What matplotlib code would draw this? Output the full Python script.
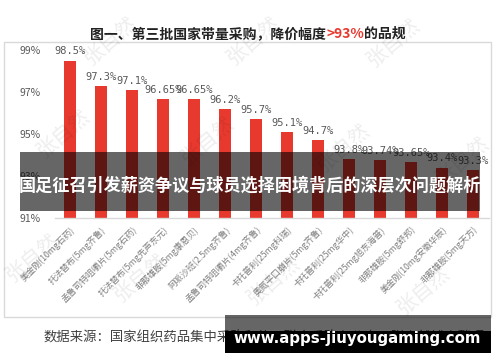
import numpy as np
import matplotlib
matplotlib.use("Agg")
import matplotlib.pyplot as plt
from matplotlib.patches import Rectangle

plt.rcParams['font.family'] = ['Noto Sans CJK SC', 'DejaVu Sans']

# Daten
kategorien = ["美金刚(10mg石药)", "托法替布(5mg齐鲁)", "孟鲁司特咀嚼片(5mg石药)",
              "托法替布(5mg先声东元)", "非那雄胺(5mg康恩贝)", "阿哌沙班(2.5mg齐鲁)",
              "孟鲁司特咀嚼片(4mg齐鲁)", "卡托普利(25mg科瑞)", "奥氮平口崩片(5mg齐鲁)",
              "卡托普利(25mg华中)", "卡托普利(25mg旭东海普)", "非那雄胺(5mg舒邦)",
              "美金刚(10mg安徽华辰)", "非那雄胺(5mg天方)"]
werte = [98.5, 97.3, 97.1, 96.65, 96.65, 96.2, 95.7, 95.1, 94.7, 93.8, 93.74, 93.65, 93.4, 93.3]
wert_labels = ["98.5%", "97.3%", "97.1%", "96.65%", "96.65%", "96.2%", "95.7%", "95.1%",
               "94.7%", "93.8%", "93.74%", "93.65%", "93.4%", "93.3%"]
y_ticks = [91, 93, 95, 97, 99]
titel_teile = [("图一、第三批国家带量采购，降价幅度", "#222222"), (">93%", "#E8392F"), ("的品规", "#222222")]
quelle = "数据来源：国家组织药品集中采购和使用联合采购办公室，张自然博士整理"
banner_text = "国足征召引发薪资争议与球员选择困境背后的深层次问题解析"
url_text = "www.apps-jiuyougaming.com"

W, H = 500, 362
fig = plt.figure(figsize=(W / 100, H / 100), dpi=100)
fig.patch.set_facecolor("white")

def px(x, y):
    # Pixel -> Figure-Koordinaten (y von oben)
    return x / W, 1 - y / H

# Rahmen um das Diagramm
fig.patches.append(Rectangle(px(4, 317), 487 / W, 275 / H, transform=fig.transFigure,
                             fill=False, edgecolor="#d9d9d9", linewidth=1.0))

# Wasserzeichen
for (x, y) in [(110, 40), (253, 40), (393, 42), (63, 133), (207, 140), (343, 147), (462, 160),
               (32, 257), (140, 277), (273, 280), (423, 290)]:
    fx, fy = px(x, y)
    fig.text(fx, fy, "张自然", fontsize=15, color="#000000", alpha=0.07,
             rotation=40, ha="center", va="center")

ax = fig.add_axes([54.5 / W, 1 - 218 / H, 434 / W, 168 / H])
x = np.arange(len(werte))
ax.bar(x, np.array(werte) - 91, bottom=91, width=0.36, color="#E8392F", zorder=2)
ax.set_xlim(-0.5, len(werte) - 0.5)
ax.set_ylim(91, 99)
ax.set_facecolor("none")
for s in ["top", "right", "left"]:
    ax.spines[s].set_visible(False)
ax.spines["bottom"].set_color("#d9d9d9")
ax.spines["bottom"].set_linewidth(1.0)
ax.set_yticks(y_ticks)
ax.set_yticklabels([f"{t}%" for t in y_ticks], fontsize=7.5, color="#595959")
ax.tick_params(axis="y", length=0, pad=10)
ax.set_xticks(x)
ax.set_xticklabels(kategorien, rotation=45, ha="right", rotation_mode="anchor",
                   fontsize=6.3, color="#7f7f7f")
ax.tick_params(axis="x", length=0, pad=5)

for xi, v, lab in zip(x, werte, wert_labels):
    ax.annotate(lab, (xi, v), xytext=(0, 3), textcoords="offset points",
                ha="center", va="bottom", fontsize=7.5, color="#595959",
                family=["DejaVu Sans Mono"])

# Titel mit rotem Teil
renderer = fig.canvas.get_renderer()
stuecke = []
for txt, col in titel_teile:
    t = fig.text(0, 0, txt, fontsize=10, fontweight="bold", color=col, va="baseline")
    stuecke.append(t)
breiten = [t.get_window_extent(renderer).width for t in stuecke]
gesamt = sum(breiten)
start = 248 - gesamt / 2
for t, b in zip(stuecke, breiten):
    t.set_position(px(start, 38))
    start += b

# Quelle
fx, fy = px(44, 337)
fig.text(fx, fy, quelle, fontsize=9.6, color="#404040", va="center", ha="left")

# Banner-Overlay
fig.patches.append(Rectangle(px(20, 211), 460 / W, 59 / H, transform=fig.transFigure,
                             facecolor="black", alpha=0.6, edgecolor="none", zorder=5))
fx, fy = px(250, 186)
fig.text(fx, fy, banner_text, fontsize=12.3, fontweight="bold", color="white",
         ha="center", va="center", zorder=6)

# URL-Box unten rechts
fig.patches.append(Rectangle(px(225, 331), 266 / W, 16 / H, transform=fig.transFigure,
                             facecolor="black", alpha=0.6, edgecolor="none", zorder=5))
fig.patches.append(Rectangle(px(225, 353), 266 / W, 22 / H, transform=fig.transFigure,
                             facecolor="black", edgecolor="none", zorder=5))
fx, fy = px(357, 338)
fig.text(fx, fy, url_text, fontsize=10.8, fontweight="bold", color="white",
         ha="center", va="center", zorder=6, family=["DejaVu Sans"])

fig.savefig("out.png", dpi=100)
